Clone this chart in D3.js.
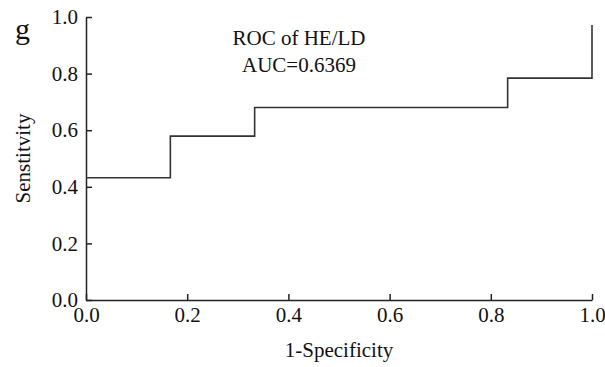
<!DOCTYPE html>
<html>
<head>
<meta charset="utf-8">
<script src="https://cdn.jsdelivr.net/npm/d3@7"></script>
<style>
  html, body { margin: 0; padding: 0; background: #fff; }
  svg { display: block; }
  text { font-family: "Liberation Serif", "Times New Roman", serif; fill: #111; }
</style>
</head>
<body>
<svg id="chart" width="605" height="367"></svg>
<script>
// ROC operating points (1-specificity, sensitivity), drawn as a step curve
const fpr = [0, 0.1667, 0.3333, 0.8333, 1.0];
const tpr = [0.432, 0.579, 0.680, 0.784, 0.972];
const xTicks = [0, 0.2, 0.4, 0.6, 0.8, 1.0];
const yTicks = [0, 0.2, 0.4, 0.6, 0.8, 1.0];
const panelLabel = "g";
const titleLines = ["ROC of HE/LD", "AUC=0.6369"];
const xLabel = "1-Specificity";
const yLabel = "Senstitvity";

const svg = d3.select("#chart");
const plotLeft = 86, plotRight = 592, plotTop = 17, plotBottom = 300;

const x = d3.scaleLinear().domain([0, 1]).range([plotLeft, plotRight]);
const y = d3.scaleLinear().domain([0, 1]).range([plotBottom, plotTop]);

// x axis with inward ticks
const gx = svg.append("g")
  .attr("transform", `translate(0,${plotBottom})`)
  .call(d3.axisBottom(x).tickValues(xTicks).tickFormat(d3.format(".1f"))
    .tickSizeInner(-6).tickSizeOuter(0).tickPadding(7));
// y axis with inward ticks
const gy = svg.append("g")
  .attr("transform", `translate(${plotLeft},0)`)
  .call(d3.axisLeft(y).tickValues(yTicks).tickFormat(d3.format(".1f"))
    .tickSizeInner(-6).tickSizeOuter(0).tickPadding(8));

[gx, gy].forEach(g => {
  g.select(".domain").attr("stroke", "#222").attr("stroke-width", 1.5);
  g.selectAll(".tick line").attr("stroke", "#222").attr("stroke-width", 1.5);
  g.selectAll(".tick text")
    .style("font-family", '"Liberation Serif", serif')
    .style("font-size", "21px").attr("fill", "#111");
});

// ROC curve
const pts = fpr.map((f, i) => [f, tpr[i]]);
svg.append("path")
  .datum(pts)
  .attr("fill", "none")
  .attr("stroke", "#333")
  .attr("stroke-width", 1.6)
  .attr("d", d3.line().x(d => x(d[0])).y(d => y(d[1])).curve(d3.curveStepAfter));

// title inside the plot
svg.append("g").selectAll("text").data(titleLines).join("text")
  .attr("x", 299)
  .attr("y", (d, i) => 45 + i * 27)
  .attr("text-anchor", "middle")
  .style("font-size", "21px")
  .text(d => d);

// panel letter
svg.append("text")
  .attr("x", 15).attr("y", 39)
  .style("font-size", "30px")
  .text(panelLabel);

// axis titles
svg.append("text")
  .attr("x", (plotLeft + plotRight) / 2).attr("y", 357)
  .attr("text-anchor", "middle")
  .style("font-size", "21px")
  .text(xLabel);

svg.append("text")
  .attr("transform", `translate(30,${(plotTop + plotBottom) / 2}) rotate(-90)`)
  .attr("text-anchor", "middle")
  .style("font-size", "21px")
  .text(yLabel);
</script>
</body>
</html>
